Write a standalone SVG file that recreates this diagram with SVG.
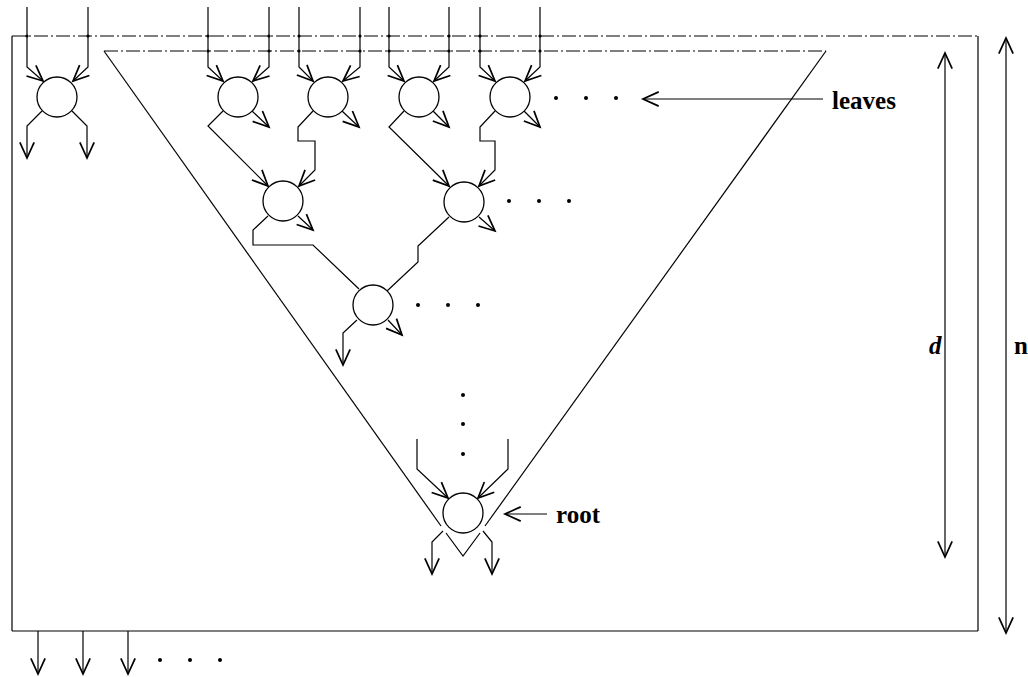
<svg xmlns="http://www.w3.org/2000/svg" width="1028" height="677" viewBox="0 0 1028 677">
<style>
.l{fill:none;stroke:#000;stroke-width:1.2;stroke-linejoin:miter}
.dd{fill:none;stroke:#000;stroke-width:1.2;stroke-dasharray:14 3 2 3}
.c{fill:#fff;stroke:#000;stroke-width:1.3}
.a{marker-end:url(#ah)}
.b{marker-start:url(#ah);marker-end:url(#ah)}
.dot{fill:#000}
.t{font-family:"Liberation Serif","Times New Roman",serif;font-weight:bold;font-size:25px;fill:#000}
</style>
<defs>
<marker id="ah" markerUnits="userSpaceOnUse" markerWidth="20" markerHeight="20" refX="0" refY="0" viewBox="-12 -6 14 12" orient="auto-start-reverse" overflow="visible">
<path d="M-11,-5 L0,0 L-11,5" fill="none" stroke="#000" stroke-width="1.2"/>
</marker>
</defs>
<rect width="1028" height="677" fill="#fff"/>

<g id="frame">
<line class="dd" x1="12" y1="36" x2="978" y2="36"/>
<line class="l" x1="12" y1="36" x2="12" y2="631"/>
<line class="l" x1="978" y1="36" x2="978" y2="631"/>
<line class="l" x1="12" y1="631" x2="978" y2="631"/>
</g>

<g id="triangle">
<line class="dd" x1="104" y1="51" x2="826" y2="51"/>
<line class="l" x1="104" y1="51" x2="441" y2="526"/>
<polyline class="l" points="446,533 463,556 480,533"/>
<line class="l" x1="485" y1="526" x2="826" y2="51"/>
</g>

<g id="connectors">
<!-- leaf 0 inputs/outputs -->
<polyline class="l a" points="27,7 27,67 43,81"/>
<polyline class="l a" points="88,7 88,67 73,81"/>
<polyline class="l a" points="42,111 27,126 27,158"/>
<polyline class="l a" points="72,111 87,126 87,158"/>
<!-- leaf A -->
<polyline class="l a" points="208,7 208,67 223,81"/>
<polyline class="l a" points="269,7 269,67 253,81"/>
<polyline class="l a" points="252,111 269,127"/>
<polyline class="l a" points="223,111 208,126 268,186"/>
<!-- leaf B -->
<polyline class="l a" points="299,7 299,67 313,81"/>
<polyline class="l a" points="360,7 360,67 343,81"/>
<polyline class="l a" points="342,111 359,127"/>
<polyline class="l a" points="313,111 298,127 298,141 315,141 315,170 299,186"/>
<!-- leaf C -->
<polyline class="l a" points="389,7 389,67 404,81"/>
<polyline class="l a" points="449,7 449,67 434,81"/>
<polyline class="l a" points="433,111 449,127"/>
<polyline class="l a" points="404,111 389,127 449,186"/>
<!-- leaf D -->
<polyline class="l a" points="480,7 480,67 495,81"/>
<polyline class="l a" points="540,7 540,67 525,81"/>
<polyline class="l a" points="524,111 540,127"/>
<polyline class="l a" points="495,111 480,127 480,141 495,141 495,170 479,186"/>
<!-- E -->
<polyline class="l a" points="298,216 313,230"/>
<polyline class="l" points="268,216 253,230 253,245 313,245 359,289"/>
<!-- F -->
<polyline class="l a" points="479,217 495,231"/>
<polyline class="l" points="449,217 418,246 418,262 387,291"/>
<!-- G -->
<polyline class="l a" points="388,320 402,335"/>
<polyline class="l a" points="357,320 343,333 343,365"/>
<!-- root -->
<polyline class="l a" points="417,439 417,469 448,498"/>
<polyline class="l a" points="508,439 508,469 478,498"/>
<polyline class="l a" points="443,531 432,542 432,574"/>
<polyline class="l a" points="483,531 492,542 492,574"/>
<!-- bottom outputs -->
<line class="l a" x1="38" y1="631" x2="38" y2="674"/>
<line class="l a" x1="83" y1="631" x2="83" y2="674"/>
<line class="l a" x1="128" y1="631" x2="128" y2="674"/>
<!-- label pointers -->
<line class="l a" x1="823" y1="99" x2="643" y2="99"/>
<line class="l a" x1="547" y1="514" x2="505" y2="514"/>
<!-- dimension arrows -->
<line class="l b" x1="945" y1="53" x2="945" y2="557"/>
<line class="l b" x1="1006" y1="38" x2="1006" y2="633"/>
</g>

<g id="junctions">
<circle class="dot" cx="27" cy="36" r="1.6"/>
<circle class="dot" cx="88" cy="36" r="1.6"/>
<circle class="dot" cx="208" cy="36" r="1.6"/><circle class="dot" cx="208" cy="51" r="1.6"/>
<circle class="dot" cx="269" cy="36" r="1.6"/><circle class="dot" cx="269" cy="51" r="1.6"/>
<circle class="dot" cx="299" cy="36" r="1.6"/><circle class="dot" cx="299" cy="51" r="1.6"/>
<circle class="dot" cx="360" cy="36" r="1.6"/><circle class="dot" cx="360" cy="51" r="1.6"/>
<circle class="dot" cx="389" cy="36" r="1.6"/><circle class="dot" cx="389" cy="51" r="1.6"/>
<circle class="dot" cx="449" cy="36" r="1.6"/><circle class="dot" cx="449" cy="51" r="1.6"/>
<circle class="dot" cx="480" cy="36" r="1.6"/><circle class="dot" cx="480" cy="51" r="1.6"/>
<circle class="dot" cx="540" cy="36" r="1.6"/><circle class="dot" cx="540" cy="51" r="1.6"/>
</g>

<g id="node-leaf0"><circle class="c" cx="57" cy="97" r="20"/></g>
<g id="node-leafA"><circle class="c" cx="238" cy="97" r="20"/></g>
<g id="node-leafB"><circle class="c" cx="328" cy="97" r="20"/></g>
<g id="node-leafC"><circle class="c" cx="419" cy="97" r="20"/></g>
<g id="node-leafD"><circle class="c" cx="510" cy="97" r="20"/></g>
<g id="node-E"><circle class="c" cx="283" cy="201" r="20"/></g>
<g id="node-F"><circle class="c" cx="464" cy="202" r="20"/></g>
<g id="node-G"><circle class="c" cx="373" cy="305" r="20"/></g>
<g id="node-root"><circle class="c" cx="463" cy="513" r="20"/></g>

<g id="ellipses">
<circle class="dot" cx="556" cy="98" r="2"/><circle class="dot" cx="586" cy="98" r="2"/><circle class="dot" cx="616" cy="98" r="2"/>
<circle class="dot" cx="509" cy="201" r="2"/><circle class="dot" cx="539" cy="201" r="2"/><circle class="dot" cx="569" cy="201" r="2"/>
<circle class="dot" cx="418" cy="305" r="2"/><circle class="dot" cx="448" cy="305" r="2"/><circle class="dot" cx="478" cy="305" r="2"/>
<circle class="dot" cx="463" cy="395" r="2"/><circle class="dot" cx="463" cy="424" r="2"/><circle class="dot" cx="463" cy="454" r="2"/>
<circle class="dot" cx="160" cy="660" r="2"/><circle class="dot" cx="190" cy="660" r="2"/><circle class="dot" cx="220" cy="660" r="2"/>
</g>

<g id="labels">
<text class="t" x="832" y="109">leaves</text>
<text class="t" x="556" y="523">root</text>
<text class="t" x="929" y="354" font-style="italic">d</text>
<text class="t" x="1014" y="354">n</text>
</g>
</svg>
